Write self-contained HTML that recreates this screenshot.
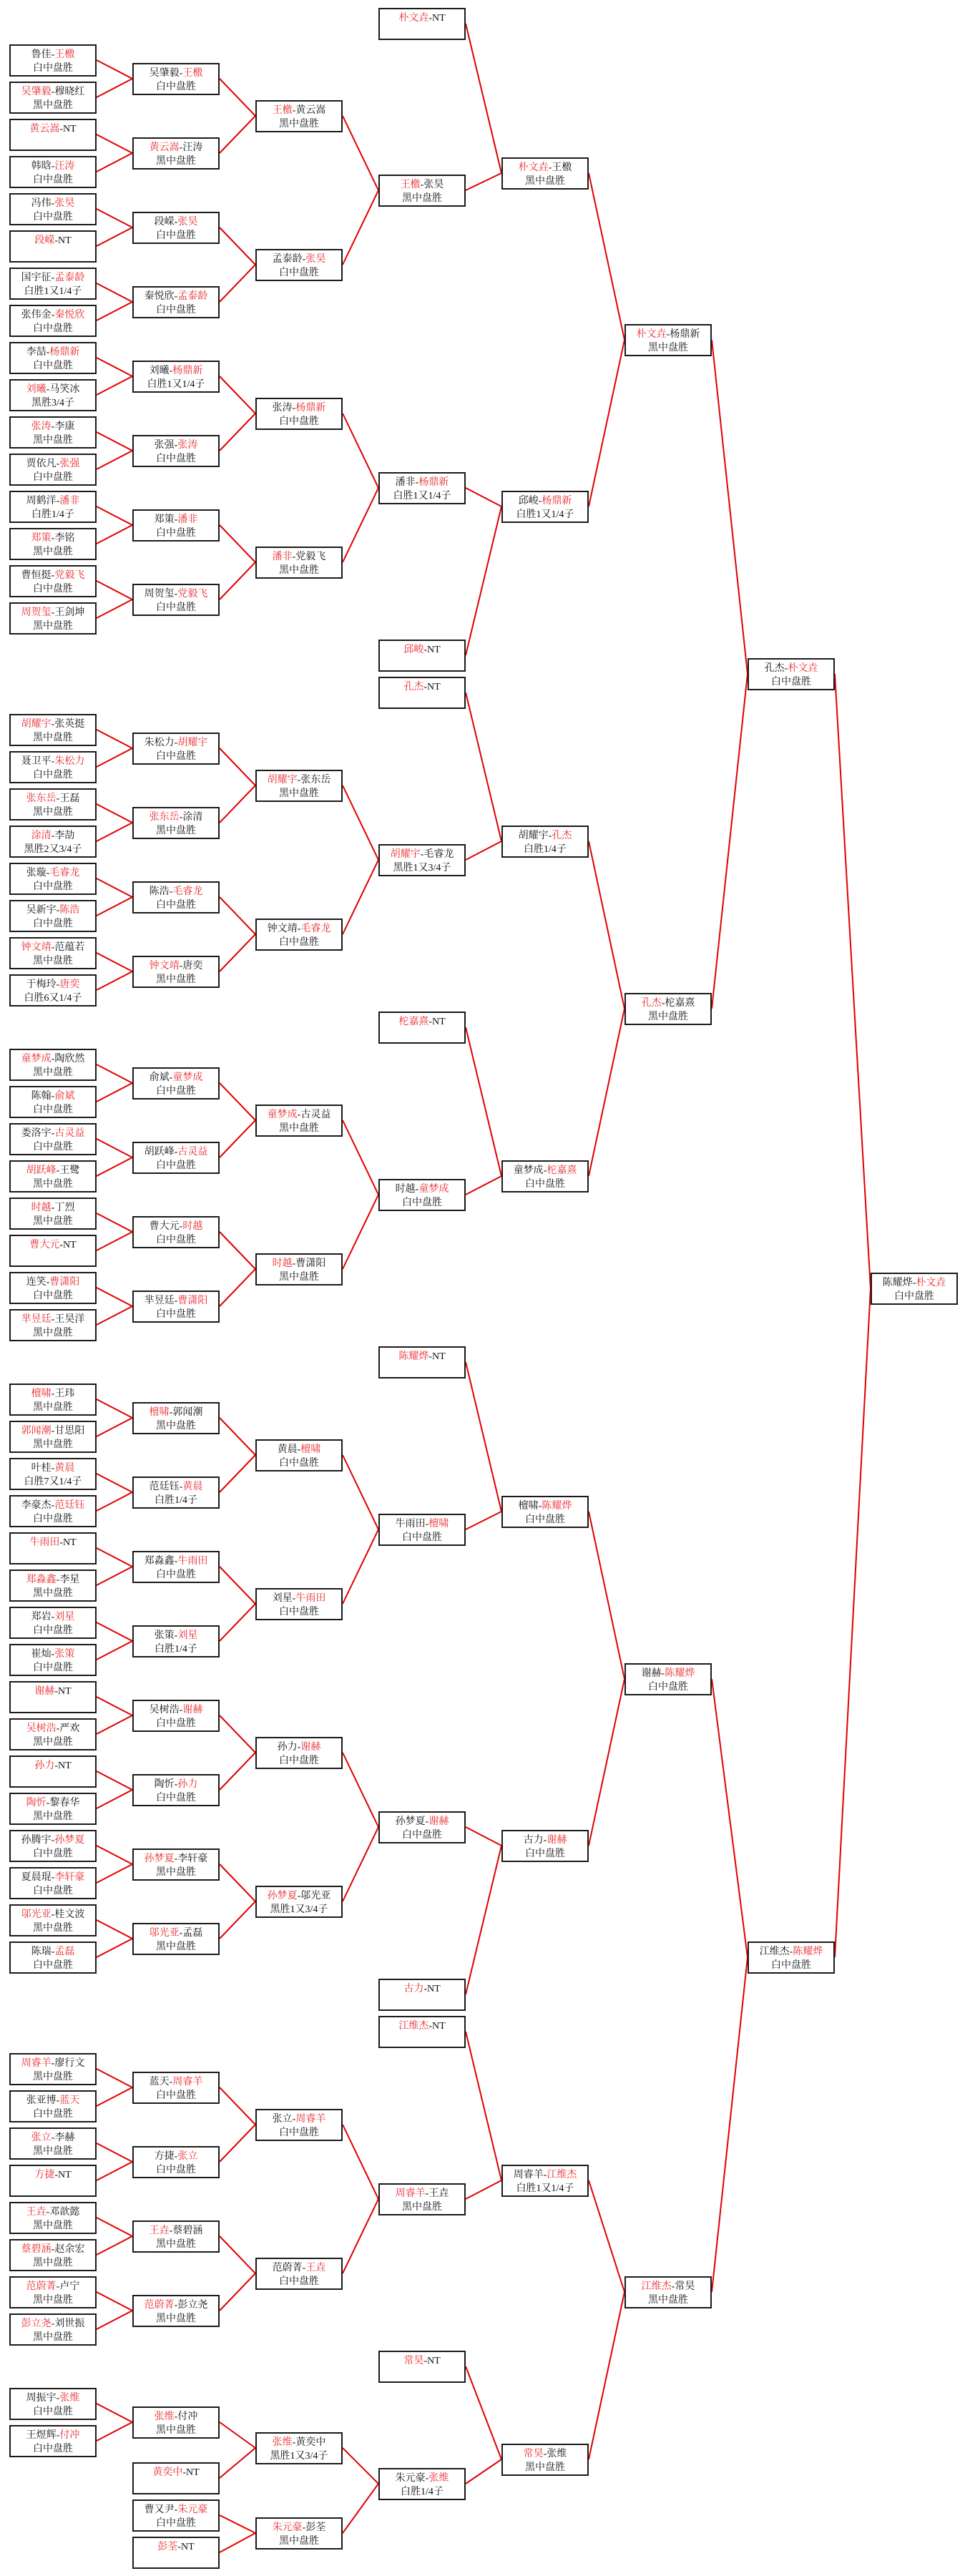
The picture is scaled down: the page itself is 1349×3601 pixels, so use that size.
<!DOCTYPE html>
<html><head><meta charset="utf-8">
<style>
html,body{margin:0;padding:0;background:#fff;}
body{width:1349px;height:3601px;position:relative;overflow:hidden;font-family:"Liberation Serif","Noto Serif CJK SC","Noto Sans CJK SC",serif;}
.b{position:absolute;width:122px;height:45px;box-sizing:border-box;border:2px solid #1a1a1a;background:#fff;text-align:center;font-size:14px;line-height:19px;padding-top:3px;color:#111;white-space:nowrap;letter-spacing:0px;}
.b i{font-style:normal;color:#e8282c;}
svg{position:absolute;left:0;top:0;}
</style></head><body>
<svg width="1349" height="3601" viewBox="0 0 1349 3601" fill="none" stroke="#e00000" stroke-width="2">
<!-- c1->c2 -->
<path d="M135 84L185 110L135 136M135 188L185 214L135 240M135 292L185 318L135 344M135 396L185 422L135 448M135 500L185 526L135 552M135 604L185 630L135 656M135 708L185 734L135 760M135 812L185 838L135 864M135 1020L185 1046L135 1072M135 1124L185 1150L135 1176M135 1228L185 1254L135 1280M135 1332L185 1358L135 1384M135 1488L185 1514L135 1540M135 1592L185 1618L135 1644M135 1696L185 1722L135 1748M135 1800L185 1826L135 1852M135 1956L185 1982L135 2008M135 2060L185 2086L135 2112M135 2164L185 2190L135 2216M135 2268L185 2294L135 2320M135 2372L185 2398L135 2424M135 2476L185 2502L135 2528M135 2580L185 2606L135 2632M135 2684L185 2710L135 2736M135 2892L185 2918L135 2944M135 2996L185 3022L135 3048M135 3100L185 3126L135 3152M135 3204L185 3230L135 3256M135 3360L185 3386L135 3412"/>
<!-- c2->c3 -->
<path d="M307 110L357 162L307 214M307 318L357 370L307 422M307 526L357 578L307 630M307 734L357 786L307 838M307 1046L357 1098L307 1150M307 1254L357 1306L307 1358M307 1514L357 1566L307 1618M307 1722L357 1774L307 1826M307 1982L357 2034L307 2086M307 2190L357 2242L307 2294M307 2398L357 2450L307 2502M307 2606L357 2658L307 2710M307 2918L357 2970L307 3022M307 3126L357 3178L307 3230M307 3386L357 3422L307 3464M307 3516L357 3541L307 3568"/>
<!-- c3->c4 -->
<path d="M479 162L529 266L479 370M479 578L529 682L479 786M479 1098L529 1202L479 1306M479 1566L529 1670L479 1774M479 2034L529 2138L479 2242M479 2450L529 2554L479 2658M479 2970L529 3074L479 3178M479 3422L529 3472L479 3541"/>
<!-- c4->c5 -->
<path d="M651 33L701 242L651 266M651 682L701 708L651 916M651 968L701 1176L651 1202M651 1436L701 1644L651 1670M651 1904L701 2113L651 2138M651 2554L701 2580L651 2788M651 2840L701 3048L651 3074M651 3308L701 3438L651 3472"/>
<!-- c5->c6 -->
<path d="M823 242L873 475L823 708M823 1176L873 1410L823 1644M823 2113L873 2347L823 2580M823 3048L873 3204L823 3438"/>
<!-- c6->c7 -->
<path d="M995 475L1045 942L995 1410M995 2347L1045 2736L995 3204"/>
<!-- c7->c8 -->
<path d="M1167 942L1217 1801L1167 2736"/>
</svg>

<!-- Column 1 -->
<div class="b" style="left:13px;top:62px">鲁佳-<i>王檄</i><br>白中盘胜</div>
<div class="b" style="left:13px;top:114px"><i>吴肇毅</i>-穆晓红<br>黑中盘胜</div>
<div class="b" style="left:13px;top:166px"><i>黄云嵩</i>-NT</div>
<div class="b" style="left:13px;top:218px">韩晗-<i>汪涛</i><br>白中盘胜</div>
<div class="b" style="left:13px;top:270px">冯伟-<i>张昊</i><br>白中盘胜</div>
<div class="b" style="left:13px;top:322px"><i>段嵘</i>-NT</div>
<div class="b" style="left:13px;top:374px">国宇征-<i>孟泰龄</i><br>白胜1又1/4子</div>
<div class="b" style="left:13px;top:426px">张伟金-<i>秦悦欣</i><br>白中盘胜</div>
<div class="b" style="left:13px;top:478px">李喆-<i>杨鼎新</i><br>白中盘胜</div>
<div class="b" style="left:13px;top:530px"><i>刘曦</i>-马笑冰<br>黑胜3/4子</div>
<div class="b" style="left:13px;top:582px"><i>张涛</i>-李康<br>黑中盘胜</div>
<div class="b" style="left:13px;top:634px">贾依凡-<i>张强</i><br>白中盘胜</div>
<div class="b" style="left:13px;top:686px">周鹤洋-<i>潘非</i><br>白胜1/4子</div>
<div class="b" style="left:13px;top:738px"><i>郑策</i>-李铭<br>黑中盘胜</div>
<div class="b" style="left:13px;top:790px">曹恒挺-<i>党毅飞</i><br>白中盘胜</div>
<div class="b" style="left:13px;top:842px"><i>周贺玺</i>-王剑坤<br>黑中盘胜</div>

<div class="b" style="left:13px;top:998px"><i>胡耀宇</i>-张英挺<br>黑中盘胜</div>
<div class="b" style="left:13px;top:1050px">聂卫平-<i>朱松力</i><br>白中盘胜</div>
<div class="b" style="left:13px;top:1102px"><i>张东岳</i>-王磊<br>黑中盘胜</div>
<div class="b" style="left:13px;top:1154px"><i>涂清</i>-李劼<br>黑胜2又3/4子</div>
<div class="b" style="left:13px;top:1206px">张璇-<i>毛睿龙</i><br>白中盘胜</div>
<div class="b" style="left:13px;top:1258px">吴新宇-<i>陈浩</i><br>白中盘胜</div>
<div class="b" style="left:13px;top:1310px"><i>钟文靖</i>-范蕴若<br>黑中盘胜</div>
<div class="b" style="left:13px;top:1362px">于梅玲-<i>唐奕</i><br>白胜6又1/4子</div>

<div class="b" style="left:13px;top:1466px"><i>童梦成</i>-陶欣然<br>黑中盘胜</div>
<div class="b" style="left:13px;top:1518px">陈翰-<i>俞斌</i><br>白中盘胜</div>
<div class="b" style="left:13px;top:1570px">娄洛宇-<i>古灵益</i><br>白中盘胜</div>
<div class="b" style="left:13px;top:1622px"><i>胡跃峰</i>-王鹭<br>黑中盘胜</div>
<div class="b" style="left:13px;top:1674px"><i>时越</i>-丁烈<br>黑中盘胜</div>
<div class="b" style="left:13px;top:1726px"><i>曹大元</i>-NT</div>
<div class="b" style="left:13px;top:1778px">连笑-<i>曹潇阳</i><br>白中盘胜</div>
<div class="b" style="left:13px;top:1830px"><i>芈昱廷</i>-王昊洋<br>黑中盘胜</div>

<div class="b" style="left:13px;top:1934px"><i>檀啸</i>-王玮<br>黑中盘胜</div>
<div class="b" style="left:13px;top:1986px"><i>郭闻潮</i>-甘思阳<br>黑中盘胜</div>
<div class="b" style="left:13px;top:2038px">叶桂-<i>黄晨</i><br>白胜7又1/4子</div>
<div class="b" style="left:13px;top:2090px">李豪杰-<i>范廷钰</i><br>白中盘胜</div>
<div class="b" style="left:13px;top:2142px"><i>牛雨田</i>-NT</div>
<div class="b" style="left:13px;top:2194px"><i>郑淼鑫</i>-李星<br>黑中盘胜</div>
<div class="b" style="left:13px;top:2246px">郑岩-<i>刘星</i><br>白中盘胜</div>
<div class="b" style="left:13px;top:2298px">崔灿-<i>张策</i><br>白中盘胜</div>
<div class="b" style="left:13px;top:2350px"><i>谢赫</i>-NT</div>
<div class="b" style="left:13px;top:2402px"><i>吴树浩</i>-严欢<br>黑中盘胜</div>
<div class="b" style="left:13px;top:2454px"><i>孙力</i>-NT</div>
<div class="b" style="left:13px;top:2506px"><i>陶忻</i>-黎春华<br>黑中盘胜</div>
<div class="b" style="left:13px;top:2558px">孙腾宇-<i>孙梦夏</i><br>白中盘胜</div>
<div class="b" style="left:13px;top:2610px">夏晨琨-<i>李轩豪</i><br>白中盘胜</div>
<div class="b" style="left:13px;top:2662px"><i>邬光亚</i>-桂文波<br>黑中盘胜</div>
<div class="b" style="left:13px;top:2714px">陈瑞-<i>孟磊</i><br>白中盘胜</div>

<div class="b" style="left:13px;top:2870px"><i>周睿羊</i>-廖行文<br>黑中盘胜</div>
<div class="b" style="left:13px;top:2922px">张亚博-<i>蓝天</i><br>白中盘胜</div>
<div class="b" style="left:13px;top:2974px"><i>张立</i>-李赫<br>黑中盘胜</div>
<div class="b" style="left:13px;top:3026px"><i>方捷</i>-NT</div>
<div class="b" style="left:13px;top:3078px"><i>王垚</i>-邓歆懿<br>黑中盘胜</div>
<div class="b" style="left:13px;top:3130px"><i>蔡碧涵</i>-赵余宏<br>黑中盘胜</div>
<div class="b" style="left:13px;top:3182px"><i>范蔚菁</i>-卢宁<br>黑中盘胜</div>
<div class="b" style="left:13px;top:3234px"><i>彭立尧</i>-刘世振<br>黑中盘胜</div>

<div class="b" style="left:13px;top:3338px">周振宇-<i>张维</i><br>白中盘胜</div>
<div class="b" style="left:13px;top:3390px">王煜辉-<i>付冲</i><br>白中盘胜</div>

<!-- Column 2 -->
<div class="b" style="left:185px;top:88px">吴肇毅-<i>王檄</i><br>白中盘胜</div>
<div class="b" style="left:185px;top:192px"><i>黄云嵩</i>-汪涛<br>黑中盘胜</div>
<div class="b" style="left:185px;top:296px">段嵘-<i>张昊</i><br>白中盘胜</div>
<div class="b" style="left:185px;top:400px">秦悦欣-<i>孟泰龄</i><br>白中盘胜</div>
<div class="b" style="left:185px;top:504px">刘曦-<i>杨鼎新</i><br>白胜1又1/4子</div>
<div class="b" style="left:185px;top:608px">张强-<i>张涛</i><br>白中盘胜</div>
<div class="b" style="left:185px;top:712px">郑策-<i>潘非</i><br>白中盘胜</div>
<div class="b" style="left:185px;top:816px">周贺玺-<i>党毅飞</i><br>白中盘胜</div>
<div class="b" style="left:185px;top:1024px">朱松力-<i>胡耀宇</i><br>白中盘胜</div>
<div class="b" style="left:185px;top:1128px"><i>张东岳</i>-涂清<br>黑中盘胜</div>
<div class="b" style="left:185px;top:1232px">陈浩-<i>毛睿龙</i><br>白中盘胜</div>
<div class="b" style="left:185px;top:1336px"><i>钟文靖</i>-唐奕<br>黑中盘胜</div>
<div class="b" style="left:185px;top:1492px">俞斌-<i>童梦成</i><br>白中盘胜</div>
<div class="b" style="left:185px;top:1596px">胡跃峰-<i>古灵益</i><br>白中盘胜</div>
<div class="b" style="left:185px;top:1700px">曹大元-<i>时越</i><br>白中盘胜</div>
<div class="b" style="left:185px;top:1804px">芈昱廷-<i>曹潇阳</i><br>白中盘胜</div>
<div class="b" style="left:185px;top:1960px"><i>檀啸</i>-郭闻潮<br>黑中盘胜</div>
<div class="b" style="left:185px;top:2064px">范廷钰-<i>黄晨</i><br>白胜1/4子</div>
<div class="b" style="left:185px;top:2168px">郑淼鑫-<i>牛雨田</i><br>白中盘胜</div>
<div class="b" style="left:185px;top:2272px">张策-<i>刘星</i><br>白胜1/4子</div>
<div class="b" style="left:185px;top:2376px">吴树浩-<i>谢赫</i><br>白中盘胜</div>
<div class="b" style="left:185px;top:2480px">陶忻-<i>孙力</i><br>白中盘胜</div>
<div class="b" style="left:185px;top:2584px"><i>孙梦夏</i>-李轩豪<br>黑中盘胜</div>
<div class="b" style="left:185px;top:2688px"><i>邬光亚</i>-孟磊<br>黑中盘胜</div>
<div class="b" style="left:185px;top:2896px">蓝天-<i>周睿羊</i><br>白中盘胜</div>
<div class="b" style="left:185px;top:3000px">方捷-<i>张立</i><br>白中盘胜</div>
<div class="b" style="left:185px;top:3104px"><i>王垚</i>-蔡碧涵<br>黑中盘胜</div>
<div class="b" style="left:185px;top:3208px"><i>范蔚菁</i>-彭立尧<br>黑中盘胜</div>
<div class="b" style="left:185px;top:3364px"><i>张维</i>-付冲<br>黑中盘胜</div>
<div class="b" style="left:185px;top:3442px"><i>黄奕中</i>-NT</div>
<div class="b" style="left:185px;top:3494px">曹又尹-<i>朱元豪</i><br>白中盘胜</div>
<div class="b" style="left:185px;top:3546px"><i>彭荃</i>-NT</div>

<!-- Column 3 -->
<div class="b" style="left:357px;top:140px"><i>王檄</i>-黄云嵩<br>黑中盘胜</div>
<div class="b" style="left:357px;top:348px">孟泰龄-<i>张昊</i><br>白中盘胜</div>
<div class="b" style="left:357px;top:556px">张涛-<i>杨鼎新</i><br>白中盘胜</div>
<div class="b" style="left:357px;top:764px"><i>潘非</i>-党毅飞<br>黑中盘胜</div>
<div class="b" style="left:357px;top:1076px"><i>胡耀宇</i>-张东岳<br>黑中盘胜</div>
<div class="b" style="left:357px;top:1284px">钟文靖-<i>毛睿龙</i><br>白中盘胜</div>
<div class="b" style="left:357px;top:1544px"><i>童梦成</i>-古灵益<br>黑中盘胜</div>
<div class="b" style="left:357px;top:1752px"><i>时越</i>-曹潇阳<br>黑中盘胜</div>
<div class="b" style="left:357px;top:2012px">黄晨-<i>檀啸</i><br>白中盘胜</div>
<div class="b" style="left:357px;top:2220px">刘星-<i>牛雨田</i><br>白中盘胜</div>
<div class="b" style="left:357px;top:2428px">孙力-<i>谢赫</i><br>白中盘胜</div>
<div class="b" style="left:357px;top:2636px"><i>孙梦夏</i>-邬光亚<br>黑胜1又3/4子</div>
<div class="b" style="left:357px;top:2948px">张立-<i>周睿羊</i><br>白中盘胜</div>
<div class="b" style="left:357px;top:3156px">范蔚菁-<i>王垚</i><br>白中盘胜</div>
<div class="b" style="left:357px;top:3400px"><i>张维</i>-黄奕中<br>黑胜1又3/4子</div>
<div class="b" style="left:357px;top:3519px"><i>朱元豪</i>-彭荃<br>黑中盘胜</div>

<!-- Column 4 -->
<div class="b" style="left:529px;top:11px"><i>朴文垚</i>-NT</div>
<div class="b" style="left:529px;top:244px"><i>王檄</i>-张昊<br>黑中盘胜</div>
<div class="b" style="left:529px;top:660px">潘非-<i>杨鼎新</i><br>白胜1又1/4子</div>
<div class="b" style="left:529px;top:894px"><i>邱峻</i>-NT</div>
<div class="b" style="left:529px;top:946px"><i>孔杰</i>-NT</div>
<div class="b" style="left:529px;top:1180px"><i>胡耀宇</i>-毛睿龙<br>黑胜1又3/4子</div>
<div class="b" style="left:529px;top:1414px"><i>柁嘉熹</i>-NT</div>
<div class="b" style="left:529px;top:1648px">时越-<i>童梦成</i><br>白中盘胜</div>
<div class="b" style="left:529px;top:1882px"><i>陈耀烨</i>-NT</div>
<div class="b" style="left:529px;top:2116px">牛雨田-<i>檀啸</i><br>白中盘胜</div>
<div class="b" style="left:529px;top:2532px">孙梦夏-<i>谢赫</i><br>白中盘胜</div>
<div class="b" style="left:529px;top:2766px"><i>古力</i>-NT</div>
<div class="b" style="left:529px;top:2818px"><i>江维杰</i>-NT</div>
<div class="b" style="left:529px;top:3052px"><i>周睿羊</i>-王垚<br>黑中盘胜</div>
<div class="b" style="left:529px;top:3286px"><i>常昊</i>-NT</div>
<div class="b" style="left:529px;top:3450px">朱元豪-<i>张维</i><br>白胜1/4子</div>

<!-- Column 5 -->
<div class="b" style="left:701px;top:220px"><i>朴文垚</i>-王檄<br>黑中盘胜</div>
<div class="b" style="left:701px;top:686px">邱峻-<i>杨鼎新</i><br>白胜1又1/4子</div>
<div class="b" style="left:701px;top:1154px">胡耀宇-<i>孔杰</i><br>白胜1/4子</div>
<div class="b" style="left:701px;top:1622px">童梦成-<i>柁嘉熹</i><br>白中盘胜</div>
<div class="b" style="left:701px;top:2091px">檀啸-<i>陈耀烨</i><br>白中盘胜</div>
<div class="b" style="left:701px;top:2558px">古力-<i>谢赫</i><br>白中盘胜</div>
<div class="b" style="left:701px;top:3026px">周睿羊-<i>江维杰</i><br>白胜1又1/4子</div>
<div class="b" style="left:701px;top:3416px"><i>常昊</i>-张维<br>黑中盘胜</div>

<!-- Column 6 -->
<div class="b" style="left:873px;top:453px"><i>朴文垚</i>-杨鼎新<br>黑中盘胜</div>
<div class="b" style="left:873px;top:1388px"><i>孔杰</i>-柁嘉熹<br>黑中盘胜</div>
<div class="b" style="left:873px;top:2325px">谢赫-<i>陈耀烨</i><br>白中盘胜</div>
<div class="b" style="left:873px;top:3182px"><i>江维杰</i>-常昊<br>黑中盘胜</div>

<!-- Column 7 -->
<div class="b" style="left:1045px;top:920px">孔杰-<i>朴文垚</i><br>白中盘胜</div>
<div class="b" style="left:1045px;top:2714px">江维杰-<i>陈耀烨</i><br>白中盘胜</div>

<!-- Column 8 -->
<div class="b" style="left:1217px;top:1779px">陈耀烨-<i>朴文垚</i><br>白中盘胜</div>
</body></html>
